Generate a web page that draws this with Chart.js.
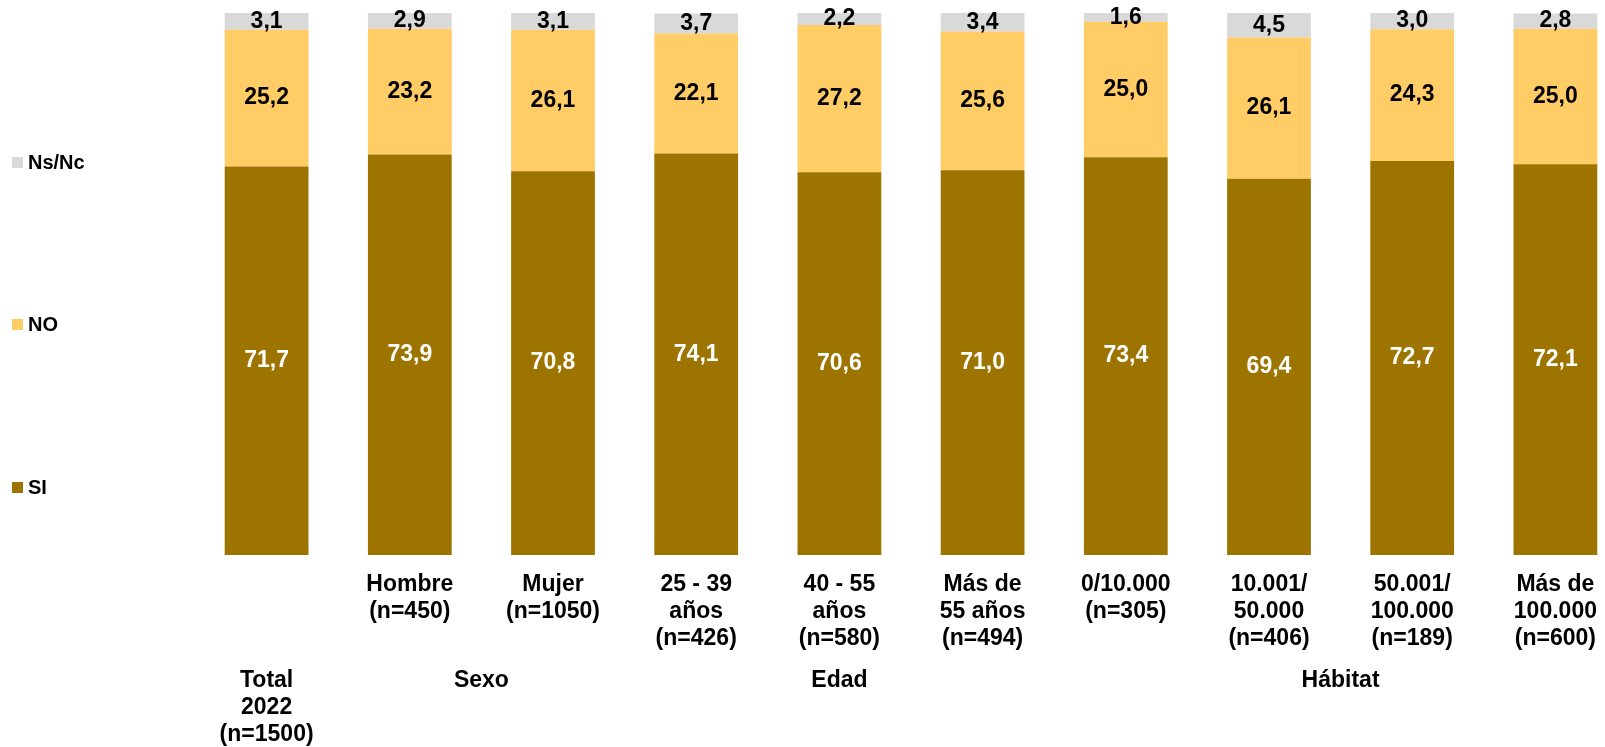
<!DOCTYPE html>
<html>
<head>
<meta charset="utf-8">
<script src="https://cdn.jsdelivr.net/npm/chart.js@4/dist/chart.umd.min.js"></script>
<style>
  html, body { margin: 0; padding: 0; background: #fff; overflow: hidden; }
</style>
</head>
<body>
<canvas id="chart" width="1640" height="747"></canvas>
<script>
// categories (multi-line tick labels), first bar has no own label
const categories = [
  '',
  ['Hombre', '(n=450)'],
  ['Mujer', '(n=1050)'],
  ['25 - 39', 'años', '(n=426)'],
  ['40 - 55', 'años', '(n=580)'],
  ['Más de', '55 años', '(n=494)'],
  ['0/10.000', '(n=305)'],
  ['10.001/', '50.000', '(n=406)'],
  ['50.001/', '100.000', '(n=189)'],
  ['Más de', '100.000', '(n=600)']
];

// series values (%)
const siValues   = [71.7, 73.9, 70.8, 74.1, 70.6, 71.0, 73.4, 69.4, 72.7, 72.1];
const noValues   = [25.2, 23.2, 26.1, 22.1, 27.2, 25.6, 25.0, 26.1, 24.3, 25.0];
const nsncValues = [3.1, 2.9, 3.1, 3.7, 2.2, 3.4, 1.6, 4.5, 3.0, 2.8];

// group labels under the categories: [text lines, first index, last index]
const groupLabels = [
  [['Total', '2022', '(n=1500)'], 0, 0],
  [['Sexo'], 1, 2],
  [['Edad'], 3, 5],
  [['Hábitat'], 6, 9]
];

const FONT = '"Liberation Sans", Arial, sans-serif';
const fmt = v => v.toFixed(1).replace('.', ',');

// numbers inside the bar segments
const valueLabels = {
  id: 'valueLabels',
  afterDatasetsDraw(chart) {
    const ctx = chart.ctx;
    ctx.save();
    ctx.font = 'bold 23px ' + FONT;
    ctx.textAlign = 'center';
    ctx.textBaseline = 'middle';
    chart.data.datasets.forEach((ds, i) => {
      const meta = chart.getDatasetMeta(i);
      meta.data.forEach((bar, j) => {
        ctx.fillStyle = ds.labelColor;
        ctx.fillText(fmt(ds.data[j]), bar.x, (bar.y + bar.base) / 2);
      });
    });
    ctx.restore();
  }
};

// Total / Sexo / Edad / Hábitat row
const groupRow = {
  id: 'groupRow',
  afterDraw(chart) {
    const ctx = chart.ctx;
    const x = chart.scales.x;
    ctx.save();
    ctx.font = 'bold 23px ' + FONT;
    ctx.fillStyle = '#000';
    ctx.textAlign = 'center';
    ctx.textBaseline = 'alphabetic';
    groupLabels.forEach(([lines, a, b]) => {
      const cx = (x.getPixelForValue(a) + x.getPixelForValue(b)) / 2;
      lines.forEach((t, k) => ctx.fillText(t, cx, 687 + k * 27));
    });
    ctx.restore();
  }
};

// legend on the left, top item first
const sideLegend = {
  id: 'sideLegend',
  afterDraw(chart) {
    const ctx = chart.ctx;
    const items = chart.data.datasets.slice().reverse();
    const rows = [162, 324, 487];
    ctx.save();
    ctx.font = 'bold 20px ' + FONT;
    ctx.textAlign = 'left';
    ctx.textBaseline = 'middle';
    items.forEach((ds, i) => {
      ctx.fillStyle = ds.backgroundColor;
      ctx.fillRect(12, rows[i] - 5, 11, 11);
      ctx.fillStyle = '#000';
      ctx.fillText(ds.label, 28, rows[i] + 1);
    });
    ctx.restore();
  }
};

new Chart(document.getElementById('chart'), {
  type: 'bar',
  data: {
    labels: categories,
    datasets: [
      { label: 'SI', data: siValues, backgroundColor: '#9E7400', labelColor: '#fff' },
      { label: 'NO', data: noValues, backgroundColor: '#FFCC66', labelColor: '#000' },
      { label: 'Ns/Nc', data: nsncValues, backgroundColor: '#D9D9D9', labelColor: '#000' }
    ]
  },
  options: {
    responsive: false,
    animation: false,
    layout: { padding: { left: 195, right: 13, top: 13, bottom: 0 } },
    datasets: { bar: { barPercentage: 0.585, categoryPercentage: 1, borderWidth: 0 } },
    scales: {
      x: {
        stacked: true,
        grid: { display: false, drawTicks: false },
        border: { display: false },
        ticks: {
          autoSkip: false,
          maxRotation: 0,
          padding: 16,
          color: '#000',
          font: { family: FONT, size: 23, weight: 'bold', lineHeight: '27px' }
        },
        afterFit(scale) { scale.height = 192; }
      },
      y: {
        stacked: true,
        display: false,
        min: 0,
        max: 100
      }
    },
    plugins: {
      legend: { display: false },
      tooltip: { enabled: false }
    }
  },
  plugins: [valueLabels, groupRow, sideLegend]
});
</script>
</body>
</html>
